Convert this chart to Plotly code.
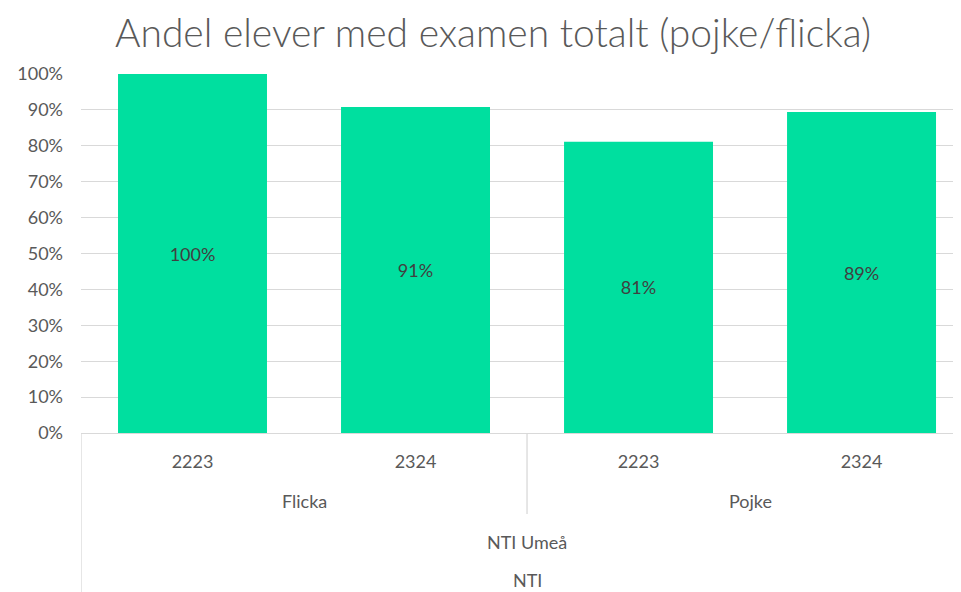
import plotly.graph_objects as go

years = ["2223", "2324", "2223", "2324"]
genders = ["Flicka", "Flicka", "Pojke", "Pojke"]
school = "NTI Umeå"
org = "NTI"
values = [1.00, 0.908, 0.811, 0.894]
yticks = [i / 10 for i in range(11)]
yticklabels = [f"{i*10}%" for i in range(11)]

FONT = "Lato"
GRAY = "#595959"
LINE = "#d9d9d9"
BAR = "#00DF9F"

W, H = 953, 584
T, B = 66, 159
xpos = list(range(len(years)))
plot_h = H - T - B
lab = dict(family=FONT, size=18, color=GRAY)

fig = go.Figure()
fig.add_trace(go.Bar(
    x=xpos, y=values, marker=dict(color=BAR, line=dict(width=0)),
    width=0.668,
    texttemplate="%{y:.0%}", textposition="inside", insidetextanchor="middle",
    textfont=dict(family=FONT, size=18, color="#404040"),
    hoverinfo="skip",
))

annotations = []
groups = []
for i, g in enumerate(genders):
    if not groups or groups[-1][0] != g:
        groups.append([g, i, i])
    else:
        groups[-1][2] = i
for g, a, b in groups:
    annotations.append(dict(x=(a + b) / 2, xref="x", y=0, yref="paper", yshift=-68,
                            text=g, showarrow=False, yanchor="middle", font=lab))
mid = (xpos[0] + xpos[-1]) / 2
annotations.append(dict(x=mid, xref="x", y=0, yref="paper", yshift=-109, text=school,
                        showarrow=False, yanchor="middle", font=lab))
annotations.append(dict(x=mid, xref="x", y=0, yref="paper", yshift=-147, text=org,
                        showarrow=False, yanchor="middle", font=lab))

shapes = [
    dict(type="line", xref="x", yref="paper", x0=-0.5, x1=-0.5, y0=0, y1=-B / plot_h,
         line=dict(color=LINE, width=1.3)),
]
for g, a, b in groups[:-1]:
    shapes.append(dict(type="line", xref="x", yref="paper", x0=b + 0.5, x1=b + 0.5,
                       y0=0, y1=-81 / plot_h, line=dict(color=LINE, width=1.3)))

fig.update_layout(
    width=W, height=H,
    margin=dict(l=73, r=0, t=T, b=B, autoexpand=False),
    paper_bgcolor="white", plot_bgcolor="white",
    showlegend=False,
    title=dict(text="Andel elever med examen totalt (pojke/flicka)",
               x=485 / W, xref="container", xanchor="center", y=1 - 25 / H, yanchor="middle",
               font=dict(family=FONT, size=39, color=GRAY, weight=300)),
    xaxis=dict(range=[-0.5, 3.446], tickvals=xpos, ticktext=years, showgrid=False,
               zeroline=False, showline=False, ticks="", ticklabelstandoff=16, automargin=False,
               tickfont=lab, fixedrange=True),
    yaxis=dict(range=[0, 1], tickvals=yticks, ticktext=yticklabels, showgrid=True,
               gridcolor=LINE, gridwidth=1.3, zeroline=True, zerolinecolor=LINE, zerolinewidth=1.3,
               showline=False, ticks="", ticklabelstandoff=17, automargin=False,
               tickfont=lab, fixedrange=True),
    annotations=annotations, shapes=shapes,
)
fig.write_html("out.html")
